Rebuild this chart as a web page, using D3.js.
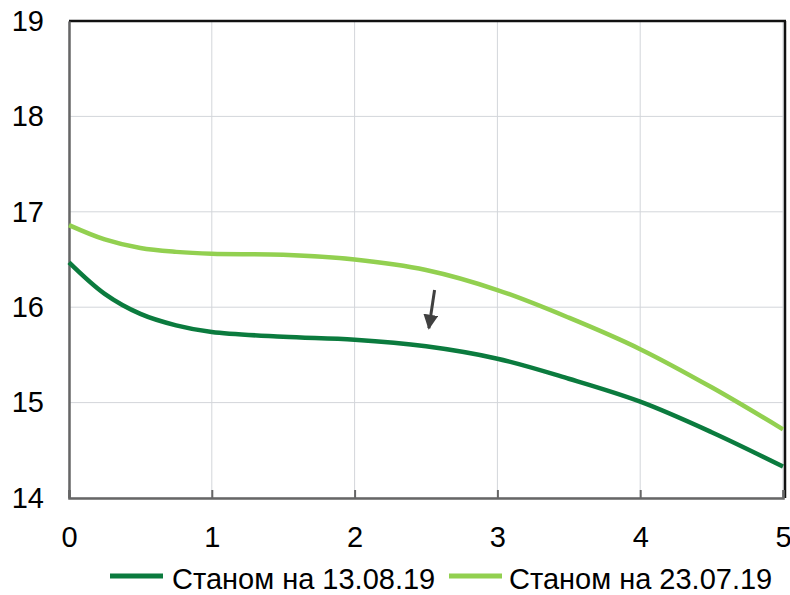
<!DOCTYPE html>
<html>
<head>
<meta charset="utf-8">
<script src="https://cdn.jsdelivr.net/npm/d3@7"></script>
<style>
  body { margin: 0; background: #fff; }
  svg text { font-family: "Liberation Sans", Arial, sans-serif; fill: #000; }
</style>
</head>
<body>
<script>
var tenors = [0, 0.25, 0.5, 0.75, 1, 1.5, 2, 2.5, 3, 3.5, 4, 4.5, 5];
var curveAug = [16.47, 16.14, 15.93, 15.81, 15.74, 15.69, 15.66, 15.59, 15.46, 15.25, 15.01, 14.69, 14.33];
var curveJul = [16.86, 16.71, 16.62, 16.58, 16.56, 16.55, 16.50, 16.39, 16.18, 15.89, 15.56, 15.16, 14.72];
var seriesNames = ['Станом на 13.08.19', 'Станом на 23.07.19'];
var xTicks = [0, 1, 2, 3, 4, 5];
var yTicks = [14, 15, 16, 17, 18, 19];
// arrow annotation: from (x, y) to (x, y) in data units
var arrowFrom = [2.56, 16.18];
var arrowTo = [2.52, 15.78];

var width = 790, height = 595;
var plotLeft = 69, plotRight = 783, plotTop = 21, plotBottom = 498;

var svg = d3.select('body')
  .append('svg')
  .attr('width', width)
  .attr('height', height);

var x = d3.scaleLinear().domain([0, 5]).range([plotLeft, plotRight]);
var y = d3.scaleLinear().domain([14, 19]).range([plotBottom, plotTop]);

// grid
svg.append('g')
  .selectAll('line')
  .data(xTicks)
  .enter()
  .append('line')
  .attr('x1', function(d) { return x(d); })
  .attr('x2', function(d) { return x(d); })
  .attr('y1', plotTop)
  .attr('y2', plotBottom)
  .attr('stroke', '#d3d6da')
  .attr('stroke-width', 1);

svg.append('g')
  .selectAll('line')
  .data(yTicks)
  .enter()
  .append('line')
  .attr('x1', plotLeft)
  .attr('x2', plotRight)
  .attr('y1', function(d) { return y(d); })
  .attr('y2', function(d) { return y(d); })
  .attr('stroke', '#d3d6da')
  .attr('stroke-width', 1);

// frame: top and right dark, left and bottom grey axes
svg.append('line')
  .attr('x1', plotLeft).attr('x2', plotRight + 3)
  .attr('y1', plotTop).attr('y2', plotTop)
  .attr('stroke', '#111').attr('stroke-width', 2.5);
svg.append('line')
  .attr('x1', plotRight + 2).attr('x2', plotRight + 2)
  .attr('y1', plotTop).attr('y2', plotBottom)
  .attr('stroke', '#111').attr('stroke-width', 2.5);

// bottom axis
var xAxis = d3.axisBottom(x)
  .tickValues(xTicks)
  .tickSize(-8)
  .tickPadding(28)
  .tickFormat(d3.format('d'));
var gx = svg.append('g')
  .attr('transform', 'translate(0,' + plotBottom + ')')
  .call(xAxis);
gx.select('.domain').attr('stroke', '#666').attr('stroke-width', 2.5);
gx.selectAll('.tick line').attr('stroke', '#666').attr('stroke-width', 2);
gx.selectAll('.tick text')
  .attr('font-size', 29)
  .attr('fill', '#000');

// left axis
var yAxis = d3.axisLeft(y)
  .tickValues(yTicks)
  .tickSize(0)
  .tickPadding(25)
  .tickFormat(d3.format('d'));
var gy = svg.append('g')
  .attr('transform', 'translate(' + plotLeft + ',0)')
  .call(yAxis);
gy.select('.domain').attr('stroke', '#666').attr('stroke-width', 2.5);
gy.selectAll('.tick text')
  .attr('font-size', 29)
  .attr('fill', '#000');
svg.selectAll('.tick text').style('font-family', '"Liberation Sans", Arial, sans-serif');

// lines
var line = d3.line()
  .x(function(d) { return x(d[0]); })
  .y(function(d) { return y(d[1]); })
  .curve(d3.curveCatmullRom.alpha(0.5));

var series = [
  { name: seriesNames[0], values: curveAug, color: '#0b7b3e' },
  { name: seriesNames[1], values: curveJul, color: '#92d050' }
];

svg.append('g')
  .selectAll('path')
  .data(series.slice().reverse())
  .enter()
  .append('path')
  .attr('d', function(s) {
    return line(tenors.map(function(t, i) { return [t, s.values[i]]; }));
  })
  .attr('fill', 'none')
  .attr('stroke', function(s) { return s.color; })
  .attr('stroke-width', 4.5);

// arrow
svg.append('defs')
  .append('marker')
  .attr('id', 'arrowhead')
  .attr('viewBox', '0 0 10 10')
  .attr('refX', 9)
  .attr('refY', 5)
  .attr('markerWidth', 5)
  .attr('markerHeight', 5)
  .attr('markerUnits', 'strokeWidth')
  .attr('orient', 'auto')
  .append('path')
  .attr('d', 'M0,0L10,5L0,10Z')
  .attr('fill', '#404040');

svg.append('line')
  .attr('x1', x(arrowFrom[0])).attr('y1', y(arrowFrom[1]))
  .attr('x2', x(arrowTo[0])).attr('y2', y(arrowTo[1]))
  .attr('stroke', '#404040')
  .attr('stroke-width', 3)
  .attr('marker-end', 'url(#arrowhead)');

// legend
var legendPos = [{ x: 110, tx: 172 }, { x: 449, tx: 509 }];
var legend = svg.append('g')
  .selectAll('g')
  .data(series)
  .enter()
  .append('g');
legend.append('line')
  .attr('x1', function(d, i) { return legendPos[i].x; })
  .attr('x2', function(d, i) { return legendPos[i].x + 53; })
  .attr('y1', 576)
  .attr('y2', 576)
  .attr('stroke', function(d) { return d.color; })
  .attr('stroke-width', 5);
legend.append('text')
  .attr('x', function(d, i) { return legendPos[i].tx; })
  .attr('y', 589)
  .attr('font-size', 29)
  .text(function(d) { return d.name; });
</script>
</body>
</html>
